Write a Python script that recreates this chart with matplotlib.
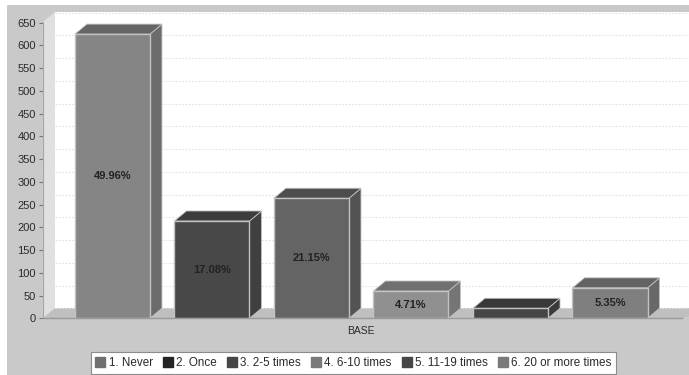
import matplotlib.pyplot as plt
from matplotlib.patches import Polygon, Rectangle
from matplotlib.lines import Line2D

categories = ["1. Never", "2. Once", "3. 2-5 times", "4. 6-10 times", "5. 11-19 times", "6. 20 or more times"]
values = [625, 214, 264, 60, 22, 67]
percent_labels = ["49.96%", "17.08%", "21.15%", "4.71%", "", "5.35%"]
y_ticks = list(range(0, 651, 50))

front_colors = ["#858585", "#484848", "#646464", "#909090", "#464646", "#7f7f7f"]
side_colors = ["#6c6c6c", "#404040", "#535353", "#757575", "#3a3a3a", "#686868"]
top_colors = ["#656565", "#3d3d3d", "#4d4d4d", "#707070", "#383838", "#636363"]
legend_colors = ["#707070", "#242424", "#464646", "#7a7a7a", "#464646", "#7a7a7a"]

W, H = 689, 375
plt.rcParams["font.family"] = ["Liberation Sans", "DejaVu Sans"]


def main():
    fig = plt.figure(figsize=(W / 100, H / 100), dpi=100, facecolor="white")
    fig.add_artist(Rectangle((7 / W, 0), 1, 1 - 5 / H, transform=fig.transFigure, color="#c9c9c9", lw=0, zorder=-1))

    # axes run from the y=0 baseline (pixel 318.3) to the top of the grey panel
    ax = fig.add_axes([43 / W, 1 - 318.3 / H, (W - 43) / W, (318.3 - 5) / H])
    ax.patch.set_visible(False)
    ax.set_xlim(-0.698, 5.794)
    ax.set_ylim(0, 689)
    for spine in ax.spines.values():
        spine.set_visible(False)

    dx = 0.1206  # depth of the fake 3d, in category units
    dy = 22.0    # same, in value units
    x0, x1 = -0.698, 5.9
    top = 652

    ax.add_patch(Polygon([(x0 + dx, dy), (x1, dy), (x1, top + dy), (x0 + dx, top + dy)], color="white", lw=0))
    ax.add_patch(Polygon([(x0, 0), (x0 + dx, dy), (x0 + dx, top + dy), (x0, top)], color="#e0e0e0", lw=0))
    ax.add_patch(Polygon([(x0, 0), (x0 + dx, dy), (x1 + dx, dy), (5.72, 0)], color="#bfbfbf", lw=0))
    ax.plot([x0, 5.72], [0, 0], color="#9a9a9a", lw=1, clip_on=False)
    ax.plot([x0, x0], [0, top], color="#a5a5a5", lw=0.8)

    for tick in y_ticks:
        ax.plot([x0 + dx, x1], [tick + dy, tick + dy], color="#e2e2e2", lw=0.8, ls=(0, (1.5, 1.5)), zorder=1)

    w = 0.754
    for i, v in enumerate(values):
        ax.bar(i, v, width=w, color=front_colors[i], edgecolor="#c2c2c2", linewidth=1, zorder=3)
        left, right = i - w / 2, i + w / 2
        ax.add_patch(Polygon([(right, 0), (right + dx, dy), (right + dx, v + dy), (right, v)],
                             facecolor=side_colors[i], edgecolor="#c2c2c2", linewidth=0.6, zorder=2))
        ax.add_patch(Polygon([(left, v), (left + dx, v + dy), (right + dx, v + dy), (right, v)],
                             facecolor=top_colors[i], edgecolor="#c2c2c2", linewidth=0.6, zorder=2))
        ax.text(i, v / 2, percent_labels[i], ha="center", va="center", fontsize=8,
                fontweight="bold", color="#222222", zorder=4)

    ax.set_xticks([])
    ax.set_yticks(y_ticks)
    ax.tick_params(axis="y", length=3, width=0.8, color="#777777", labelsize=8, labelcolor="#2a2a2a", pad=2)

    ax.text(2.5, -29, "BASE", ha="center", va="center", fontsize=7.5, color="#2a2a2a")

    handles = [Line2D([], [], marker="s", ls="", ms=6.5, color=c) for c in legend_colors]
    leg = fig.legend(handles, categories, ncol=6, loc="center", bbox_to_anchor=(353.5 / W, 1 - 363 / H),
                     frameon=True, fancybox=False, fontsize=8.4, framealpha=1, edgecolor="#8c8c8c",
                     labelcolor="#2a2a2a", handlelength=0.85, handletextpad=0.3, columnspacing=0.85,
                     borderpad=0.4, borderaxespad=0)
    leg.get_frame().set_linewidth(0.8)

    fig.savefig("out.png", dpi=100)


if __name__ == "__main__":
    main()
